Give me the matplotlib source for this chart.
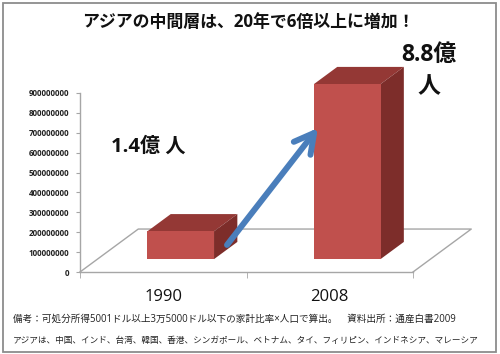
import matplotlib
matplotlib.use("Agg")
import matplotlib.pyplot as plt
from matplotlib.patches import Polygon, Rectangle
from matplotlib.lines import Line2D

# ---- data ----
years = ["1990", "2008"]
population = [140e6, 880e6]
value_labels = ["1.4億 人", "8.8億\n人"]
yticks = [0, 100000000, 200000000, 300000000, 400000000, 500000000,
          600000000, 700000000, 800000000, 900000000]
title = "アジアの中間層は、20年で6倍以上に増加！"
note1 = "備考：可処分所得5001ドル以上3万5000ドル以下の家計比率×人口で算出。　資料出所：通産白書2009"
note2 = "アジアは、中国、インド、台湾、韓国、香港、シンガポール、ベトナム、タイ、フィリピン、インドネシア、マレーシア"

W, H = 500, 354
CJK = ["Open Sans", "Noto Sans CJK JP"]

def fx(x):
    return x / W

def fy(y):
    return 1 - y / H

fig = plt.figure(figsize=(5, 3.54), dpi=100)
fig.patch.set_facecolor("white")

ax = fig.add_axes([fx(80), fy(272), fx(413) - fx(80), fy(93) - fy(272)])
ax.set_xlim(-0.5, len(years) - 0.5)
ax.set_ylim(0, 900e6)
ax.patch.set_alpha(0)

grey = "#A6A6A6"
for s in ["top", "right"]:
    ax.spines[s].set_visible(False)
ax.spines["left"].set_color(grey)
ax.spines["bottom"].set_color(grey)
ax.spines["left"].set_linewidth(1.0)
ax.spines["bottom"].set_linewidth(1.0)

ax.set_yticks(yticks)
ax.set_yticklabels([str(v) for v in yticks], fontsize=5.8, fontfamily="Open Sans",
                   fontweight="bold", color="#222222")
ax.tick_params(axis="y", length=3, color=grey, pad=5)

xs = list(range(len(years)))
ax.set_xticks(xs)
ax.set_xticklabels(years, fontsize=12, fontfamily="Open Sans", color="#111111")
ax.tick_params(axis="x", which="major", length=0, pad=12)
ax.set_xticks([x - 0.5 for x in xs] + [xs[-1] + 0.5], minor=True)
ax.tick_params(axis="x", which="minor", length=4, color=grey)

# pseudo-3D depth
DX = 0.35
DY = 216e6
d0, d1 = 0.30, 0.70
bw = 0.40

x0, x1 = -0.5, len(years) - 0.5
floor_pts = [(x0, 0), (x0 + DX, DY), (x1 + DX, DY), (x1, 0)]
ax.add_line(Line2D([p[0] for p in floor_pts], [p[1] for p in floor_pts],
                   color=grey, lw=1.0, clip_on=False, zorder=1))

front_c = "#C0504D"
top_c = "#943835"
side_c = "#7D2D2A"

bars = ax.bar([x + d0 * DX for x in xs], population, width=bw,
              bottom=d0 * DY, color=front_c, zorder=3, clip_on=False)
for x, v in zip(xs, population):
    xl = x + d0 * DX - bw / 2
    xr = x + d0 * DX + bw / 2
    yb = d0 * DY
    yt = d0 * DY + v
    ddx = (d1 - d0) * DX
    ddy = (d1 - d0) * DY
    ax.add_patch(Polygon([(xl, yt), (xr, yt), (xr + ddx, yt + ddy), (xl + ddx, yt + ddy)],
                         closed=True, fc=top_c, ec="none", zorder=2.9, clip_on=False))
    ax.add_patch(Polygon([(xr, yb), (xr, yt), (xr + ddx, yt + ddy), (xr + ddx, yb + ddy)],
                         closed=True, fc=side_c, ec="none", zorder=2.9, clip_on=False))

ax.annotate("", xy=(0.929, 724e6), xytext=(0.383, 136e6),
            arrowprops=dict(arrowstyle="->,head_length=0.7,head_width=0.38",
                            color="#4A7EBB", lw=4.3, mutation_scale=20,
                            shrinkA=0, shrinkB=0),
            zorder=5, annotation_clip=False)

fig.text(fx(148), fy(147), value_labels[0], fontsize=14.5, fontweight="bold",
         family=CJK, ha="center", va="center", color="#111111")
fig.text(fx(429), fy(71), value_labels[1], fontsize=16.5, fontweight="bold",
         family=CJK, ha="center", va="center", color="#111111",
         multialignment="center", linespacing=1.45)

fig.text(fx(248), fy(22), title, fontsize=12.2, fontweight="bold", family=CJK,
         ha="center", va="center", color="#111111")

fig.text(fx(13), fy(319), note1, fontsize=6.9, family=CJK, ha="left",
         va="center", color="#222222")
fig.text(fx(13), fy(340), note2, fontsize=6.2, family=CJK, ha="left",
         va="center", color="#222222")

fig.add_artist(Rectangle((fx(3), fy(352)), fx(496) - fx(3), fy(3) - fy(352),
                         transform=fig.transFigure, fill=False,
                         ec="#8C8C8C", lw=1.3))

fig.savefig("out.png", dpi=100, facecolor="white")
